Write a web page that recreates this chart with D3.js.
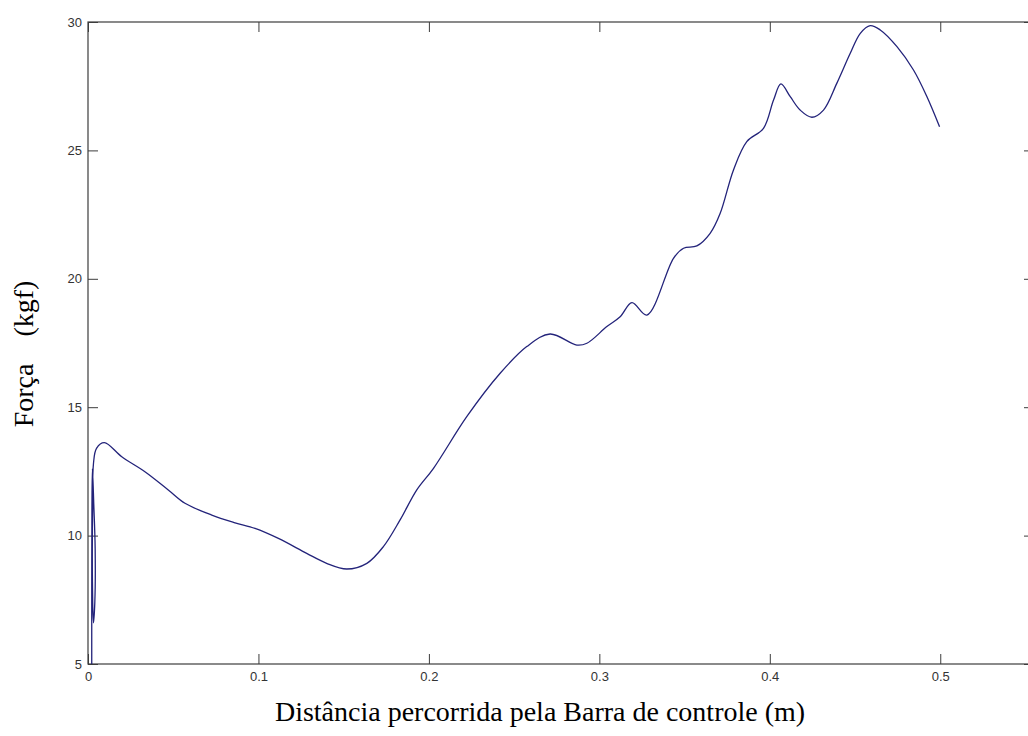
<!DOCTYPE html>
<html>
<head>
<meta charset="utf-8">
<script src="https://cdn.jsdelivr.net/npm/d3@7"></script>
<style>
  body { margin: 0; background: #fff; }
  svg { display: block; }
</style>
</head>
<body>
<div id="figure-holder"></div>
<script>
// distance (m) and force (kgf)
const distance = [
    0.0022, 0.0022, 0.0023, 0.0026, 0.0034, 0.0042, 0.0040, 0.0032, 0.0026, 0.0027, 0.0032, 0.0050,
    0.0096, 0.0198, 0.0334, 0.0471, 0.0569, 0.0726, 0.0863, 0.0980, 0.1117, 0.1283,
    0.1400, 0.1518, 0.1636, 0.1733, 0.1831, 0.1929, 0.2027, 0.2222, 0.2418, 0.2574,
    0.2711, 0.2868, 0.2927, 0.3044, 0.3122, 0.3191, 0.3279, 0.3435, 0.3494, 0.3572,
    0.3650, 0.3709, 0.3787, 0.3865, 0.3963, 0.4022, 0.4065, 0.4120, 0.4178, 0.4247,
    0.4315, 0.4393, 0.4472, 0.4531, 0.4589, 0.4648, 0.4746, 0.4843, 0.4922, 0.4996
];
const force = [
    5.0, 8.0, 11.0, 12.6, 11.2, 9.5, 7.4, 6.6, 8.2, 11.0, 12.8, 13.4,
    13.62, 13.07, 12.49, 11.78, 11.26, 10.80, 10.50, 10.28, 9.89, 9.31,
    8.92, 8.70, 8.92, 9.57, 10.61, 11.78, 12.62, 14.63, 16.32, 17.36,
    17.85, 17.42, 17.49, 18.14, 18.52, 19.07, 18.59, 20.80, 21.19, 21.28,
    21.77, 22.55, 24.24, 25.34, 25.86, 26.96, 27.59, 27.09, 26.57, 26.29,
    26.57, 27.61, 28.78, 29.56, 29.86, 29.69, 29.04, 28.13, 27.09, 25.92
];
const xTicks = [0, 0.1, 0.2, 0.3, 0.4, 0.5];
const yTicks = [5, 10, 15, 20, 25, 30];

const PLOT_CONFIG = {
    realWidth: 1028, realHeight: 736,
    left: 88, top: 22, right: 1034, bottom: 664,
    tick: 10, fontSize: 13
};

const drawForce = () => {
    const { realWidth, realHeight, left, top, right, bottom, tick, fontSize } = PLOT_CONFIG;
    const svg = d3.select('#figure-holder').append('svg')
        .attr('width', realWidth)
        .attr('height', realHeight);

    const x = d3.scaleLinear().domain([0, 0.555]).range([left, right]);
    const y = d3.scaleLinear().domain([5, 30]).range([bottom, top]);

    const axisColor = '#3c3c3c';

    // ticks inward on all four sides, like a matlab box
    const styleAxis = (g) => {
        g.select('.domain').remove();
        g.selectAll('line').attr('stroke', axisColor);
        g.selectAll('text')
            .style('font-family', 'Arial, "Liberation Sans", sans-serif')
            .style('font-size', `${fontSize}px`)
            .attr('fill', '#333');
    };

    svg.append('g')
        .attr('transform', `translate(0, ${bottom})`)
        .call(d3.axisBottom(x).tickValues(xTicks).tickSize(-tick).tickPadding(8)
            .tickFormat(d => d === 0 ? '0' : d3.format('.1f')(d)))
        .call(styleAxis);

    svg.append('g')
        .attr('transform', `translate(0, ${top})`)
        .call(d3.axisTop(x).tickValues(xTicks).tickSize(-tick).tickFormat(''))
        .call(styleAxis);

    svg.append('g')
        .attr('transform', `translate(${left}, 0)`)
        .call(d3.axisLeft(y).tickValues(yTicks).tickSize(-tick).tickPadding(6))
        .call(styleAxis);

    svg.append('g')
        .attr('transform', `translate(${right}, 0)`)
        .call(d3.axisRight(y).tickValues(yTicks).tickSize(-tick).tickFormat(''))
        .call(styleAxis);

    // box
    svg.append('rect')
        .attr('x', left)
        .attr('y', top)
        .attr('width', right - left)
        .attr('height', bottom - top)
        .attr('fill', 'none')
        .attr('stroke', axisColor)
        .attr('stroke-width', 1.2);

    const pts = distance.map((d, i) => [d, force[i]]);
    const line = d3.line()
        .x(d => x(d[0]))
        .y(d => y(d[1]))
        .curve(d3.curveCatmullRom.alpha(0.5));

    svg.append('path')
        .datum(pts)
        .attr('d', line)
        .attr('fill', 'none')
        .attr('stroke', '#23237a')
        .attr('stroke-width', 1.3);

    svg.append('text')
        .text('Distância percorrida pela Barra de controle (m)')
        .attr('x', 540)
        .attr('y', 721)
        .attr('text-anchor', 'middle')
        .style('font-family', '"Liberation Serif", "Times New Roman", serif')
        .style('font-size', '28px')
        .attr('fill', '#000');

    svg.append('text')
        .text('Força (kgf)')
        .attr('transform', 'translate(33, 354) rotate(-90)')
        .attr('text-anchor', 'middle')
        .style('word-spacing', '20px')
        .style('font-family', '"Liberation Serif", "Times New Roman", serif')
        .style('font-size', '28px')
        .attr('fill', '#000');
};

drawForce();
</script>
</body>
</html>
